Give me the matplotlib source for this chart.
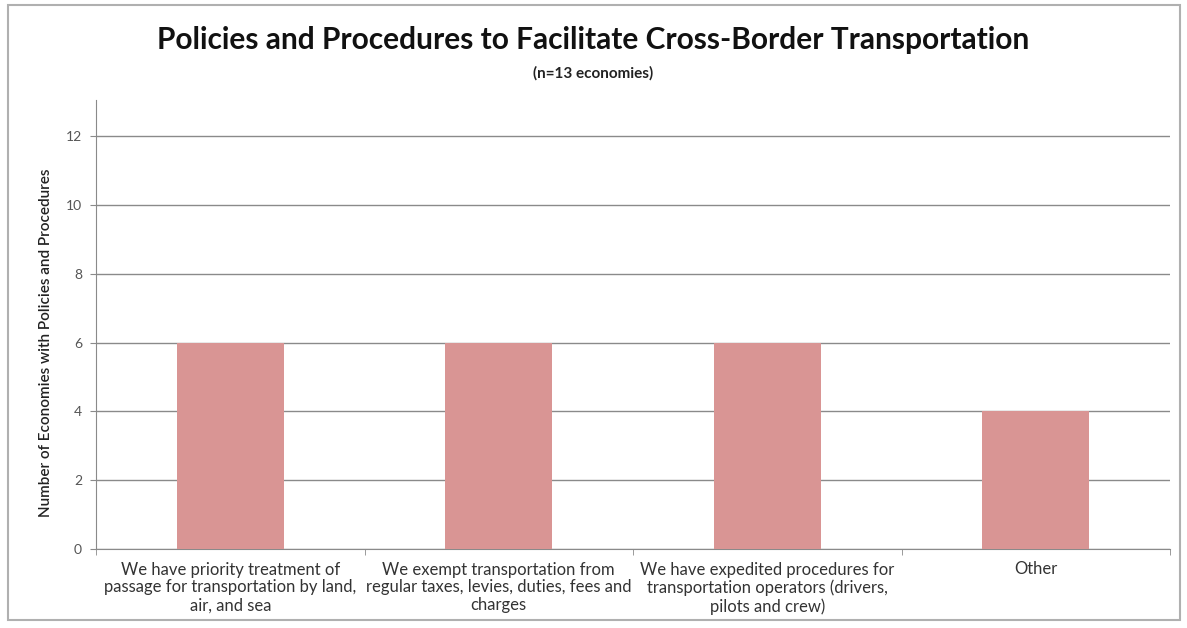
import matplotlib
matplotlib.use("Agg")
import matplotlib.pyplot as plt
from matplotlib.patches import Rectangle
import numpy as np

categories = [
    "We have priority treatment of\npassage for transportation by land,\nair, and sea",
    "We exempt transportation from\nregular taxes, levies, duties, fees and\ncharges",
    "We have expedited procedures for\ntransportation operators (drivers,\npilots and crew)",
    "Other",
]
values = [6, 6, 6, 4]
yticks = [0, 2, 4, 6, 8, 10, 12]

plt.rcParams['font.family'] = ['Lato', 'DejaVu Sans']

fig = plt.figure(figsize=(11.87, 6.28), dpi=100)
# outer frame of the chart
fig.patches.append(Rectangle((8/1187, 1-620/628), 1172/1187, 615/628, transform=fig.transFigure,
                             fill=False, edgecolor="#b0b0b0", linewidth=1.5))

ax = fig.add_axes([96/1187, 1-549/628, 1074/1187, 449/628])
x = np.arange(len(categories))
ax.bar(x, values, width=0.4, color="#d99594", zorder=3)
ax.set_xlim(-0.5, len(categories) - 0.5)
ax.set_ylim(0, 13.05)
ax.set_yticks(yticks)
ax.yaxis.grid(True, color="#8a8a8a", linewidth=1, zorder=0)
for s in ["top", "right"]:
    ax.spines[s].set_visible(False)
ax.spines["left"].set_color("#8a8a8a")
ax.spines["bottom"].set_color("#8a8a8a")
ax.tick_params(axis="y", length=4, color="#8a8a8a", labelsize=10, labelcolor="#555555", pad=6)
ax.set_xticks(x)
ax.set_xticklabels(categories, fontsize=12, color="#333333", linespacing=1.15)
ax.tick_params(axis="x", length=0, pad=9)
ax.set_xticks(np.arange(-0.5, len(categories)), minor=True)
ax.tick_params(axis="x", which="minor", length=4, color="#8a8a8a")
ax.set_ylabel("Number of Economies with Policies and Procedures", fontsize=11, color="#222222",
              fontweight="semibold")
ax.yaxis.set_label_coords(-0.04, 0.46)

fig.text(0.5, 1-40/628, "Policies and Procedures to Facilitate Cross-Border Transportation",
         ha="center", va="center", fontsize=21.5, fontweight="bold", color="#111111")
fig.text(0.5, 1-73/628, "(n=13 economies)", ha="center", va="center", fontsize=11,
         fontweight="bold", color="#222222")

fig.savefig("out.png", dpi=100)
